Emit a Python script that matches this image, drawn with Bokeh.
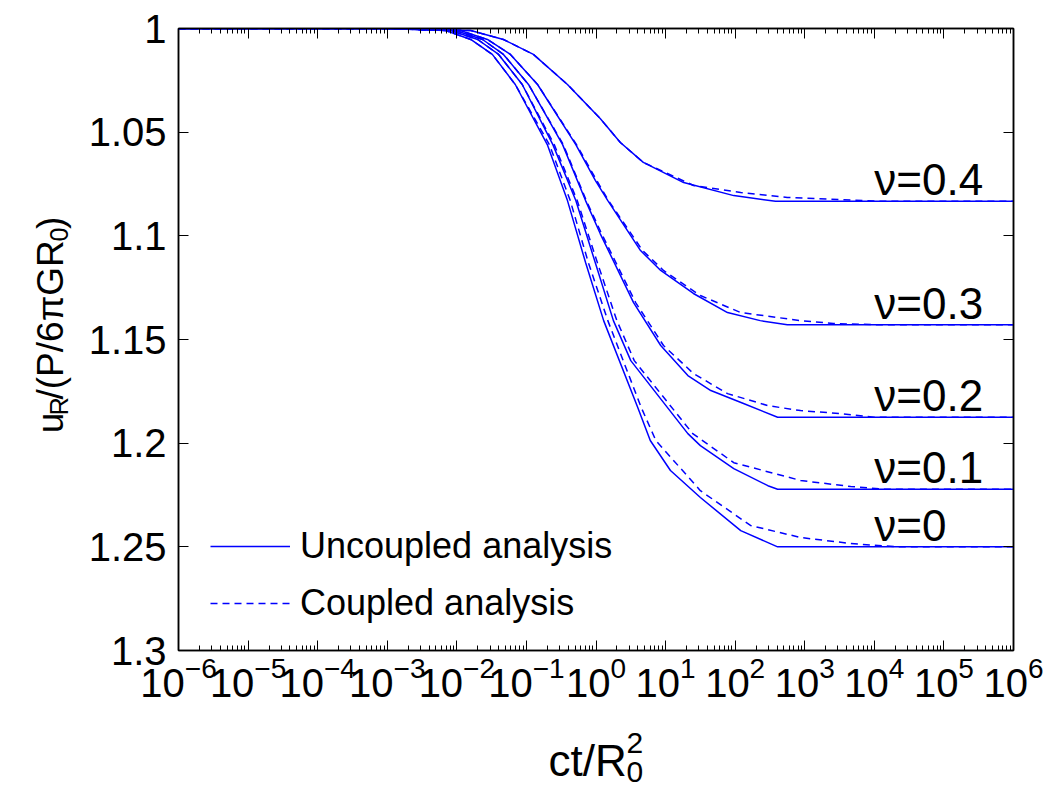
import numpy as np
from bokeh.plotting import figure
from bokeh.layouts import column, row
from bokeh.models import (Range1d, FixedTicker, LogAxis, LinearAxis, LabelSet,
                          Legend, LegendItem, CustomJSTickFormatter, ColumnDataSource)
from bokeh.embed import file_html
from bokeh.resources import INLINE
from bokeh.core.properties import value

FONT = "Liberation Sans"
BLUE = "#0000ff"

# ---------------- data ----------------
nu_labels = ["ν=0", "ν=0.1", "ν=0.2", "ν=0.3", "ν=0.4"]
final_u = [1.25, 1.2222, 1.1875, 1.1429, 1.0833]

# Uncoupled analysis (solid): log10(ct/R0^2) and u_R/(P/6piGR0)
unc_logt_0 = [-6, -3, -2.16, -1.80, -1.49, -1.16, -0.70, -0.41, -0.15, 0.11, 0.60, 0.78, 1.07, 1.50, 2.08, 2.61, 6]
unc_u_0 = [1, 1, 1.001, 1.0053, 1.0125, 1.027, 1.056, 1.083, 1.1129, 1.1409, 1.1828, 1.1987, 1.2132, 1.2262, 1.2422, 1.25, 1.25]
unc_logt_1 = [-6, -3, -2.09, -1.70, -1.40, -1.06, -0.62, -0.29, -0.02, 0.25, 0.50, 1.32, 1.50, 1.98, 2.47, 2.61, 6]
unc_u_1 = [1, 1, 1.001, 1.0053, 1.0125, 1.027, 1.056, 1.083, 1.1119, 1.1409, 1.1602, 1.1954, 1.2012, 1.2123, 1.2205, 1.2222, 1.2222]
unc_logt_2 = [-6, -3, -2.02, -1.63, -1.33, -0.97, -0.48, -0.15, 0.06, 0.54, 0.93, 1.32, 1.65, 2.12, 2.61, 6]
unc_u_2 = [1, 1, 1.001, 1.0053, 1.0125, 1.027, 1.056, 1.083, 1.0989, 1.1322, 1.1529, 1.1674, 1.1746, 1.1809, 1.1875, 1.1875]
unc_logt_3 = [-6, -3, -1.95, -1.56, -1.23, -0.84, -0.29, -0.01, 0.17, 0.64, 0.93, 1.40, 1.89, 2.36, 2.75, 6]
unc_u_3 = [1, 1, 1.001, 1.0053, 1.0125, 1.027, 1.056, 1.0733, 1.083, 1.1071, 1.1167, 1.1278, 1.137, 1.1409, 1.1429, 1.1429]
unc_logt_4 = [-6, -3, -1.80, -1.33, -0.90, -0.41, 0.06, 0.35, 0.68, 1.26, 1.98, 2.58, 6]
unc_u_4 = [1, 1, 1.001, 1.0053, 1.0125, 1.027, 1.0434, 1.055, 1.0646, 1.0743, 1.0806, 1.0833, 1.0833]

# Coupled analysis (dashed)
cpl_logt_0 = [-6, -3, -2.16, -1.80, -1.49, -1.16, -0.67, -0.37, -0.11, 0.17, 0.65, 0.86, 1.50, 2.22, 2.94, 3.66, 4.33, 6]
cpl_u_0 = [1, 1, 1.001, 1.0053, 1.0125, 1.027, 1.056, 1.083, 1.1129, 1.1409, 1.1828, 1.1987, 1.2229, 1.2397, 1.2455, 1.2484, 1.25, 1.25]
cpl_logt_1 = [-6, -3, -2.09, -1.70, -1.40, -1.06, -0.60, -0.27, 0.01, 0.30, 0.55, 1.39, 1.98, 2.94, 3.66, 4.13, 6]
cpl_u_1 = [1, 1, 1.001, 1.0053, 1.0125, 1.027, 1.056, 1.083, 1.1119, 1.1409, 1.1602, 1.1954, 1.2094, 1.218, 1.2209, 1.2222, 1.2222]
cpl_logt_2 = [-6, -3, -2.02, -1.63, -1.33, -0.97, -0.47, -0.14, 0.08, 0.57, 0.97, 1.40, 1.89, 2.47, 2.94, 3.51, 3.99, 6]
cpl_u_2 = [1, 1, 1.001, 1.0053, 1.0125, 1.027, 1.056, 1.083, 1.0989, 1.1322, 1.1529, 1.1664, 1.1761, 1.1819, 1.1843, 1.1857, 1.1875, 1.1875]
cpl_logt_3 = [-6, -3, -1.95, -1.56, -1.23, -0.84, -0.28, 0.01, 0.18, 0.67, 0.97, 1.50, 2.08, 2.94, 3.41, 4.09, 6]
cpl_u_3 = [1, 1, 1.001, 1.0053, 1.0125, 1.027, 1.056, 1.0733, 1.083, 1.1071, 1.1167, 1.1288, 1.137, 1.1409, 1.1423, 1.1429, 1.1429]
cpl_logt_4 = [-6, -3, -1.80, -1.33, -0.90, -0.41, 0.06, 0.35, 0.68, 1.40, 2.08, 2.75, 4.09, 6]
cpl_u_4 = [1, 1, 1.001, 1.0053, 1.0125, 1.027, 1.0434, 1.055, 1.0646, 1.0757, 1.0791, 1.0815, 1.0833, 1.0833]

x_exponents = list(range(-6, 7))
y_ticks = [1.0, 1.05, 1.1, 1.15, 1.2, 1.25, 1.3]
y_tick_labels = ["1", "1.05", "1.1", "1.15", "1.2", "1.25", "1.3"]

unc_series = [(unc_logt_0, unc_u_0), (unc_logt_1, unc_u_1), (unc_logt_2, unc_u_2),
              (unc_logt_3, unc_u_3), (unc_logt_4, unc_u_4)]
cpl_series = [(cpl_logt_0, cpl_u_0), (cpl_logt_1, cpl_u_1), (cpl_logt_2, cpl_u_2),
              (cpl_logt_3, cpl_u_3), (cpl_logt_4, cpl_u_4)]

# ---------------- main figure ----------------
YT_W = 78          # width of the strip holding the y title
MAIN_H = 710
p = figure(x_axis_type="log", x_range=Range1d(1e-6, 1e6), y_range=Range1d(1.3, 1.0),
           frame_width=835, frame_height=622,
           min_border_left=178 - YT_W, min_border_right=30, min_border_top=28, min_border_bottom=60,
           output_backend="svg", toolbar_location=None)
p.grid.visible = False
p.outline_line_color = "black"
p.outline_line_width = 1.5
p.background_fill_color = "white"
p.border_fill_color = "white"

major = [10.0 ** e for e in x_exponents]
minor = [k * 10.0 ** e for e in x_exponents[:-1] for k in range(2, 10)]
xticker = FixedTicker(ticks=major, minor_ticks=minor)
yticker = FixedTicker(ticks=y_ticks, minor_ticks=[])

xa = p.xaxis[0]
xa.ticker = xticker
ya = p.yaxis[0]
ya.ticker = yticker
ya.major_label_overrides = {t: l for t, l in zip(y_ticks, y_tick_labels)}

blank = CustomJSTickFormatter(code="return ''")
top_axis = LogAxis(ticker=xticker, formatter=blank)
right_axis = LinearAxis(ticker=yticker, formatter=blank)
p.add_layout(top_axis, "above")
p.add_layout(right_axis, "right")

for ax in (xa, ya, top_axis, right_axis):
    ax.axis_line_color = "black"
    ax.axis_line_width = 1.5
    ax.major_tick_line_color = "black"
    ax.minor_tick_line_color = "black"
    ax.major_tick_in = 10
    ax.major_tick_out = 0
    ax.minor_tick_in = 5
    ax.minor_tick_out = 0
    ax.major_label_text_font = FONT
    ax.major_label_text_color = "black"
    ax.major_label_text_font_size = "40px"
for ax in (ya, right_axis):
    ax.minor_tick_line_color = None
ya.major_label_standoff = 12
xa.major_label_standoff = 5
top_axis.major_label_standoff = 0
right_axis.major_label_standoff = 0

# ---------------- curves ----------------
solid_r = []
dash_r = []
for lt, u in unc_series:
    r = p.line([10.0 ** v for v in lt], u, line_color=BLUE, line_width=1.5)
    solid_r.append(r)
for lt, u in cpl_series:
    r = p.line([10.0 ** v for v in lt], u, line_color=BLUE, line_width=1.5, line_dash="7 5")
    dash_r.append(r)

# nu labels
lab_src = ColumnDataSource(dict(x=[1e4] * len(final_u), y=final_u, text=nu_labels))
p.add_layout(LabelSet(x="x", y="y", text="text", source=lab_src, y_offset=6,
                      text_font=value(FONT), text_font_size=value("44px"),
                      text_color="black", text_baseline="alphabetic", text_align="left"))

# legend
legend = Legend(items=[LegendItem(label="Uncoupled analysis", renderers=[solid_r[0]]),
                       LegendItem(label="Coupled analysis", renderers=[dash_r[0]])],
                location=(32, 26), glyph_width=80, glyph_height=30,
                label_text_font_size="36px", label_text_font=FONT, label_text_color="black",
                label_standoff=10, spacing=15, padding=0, margin=0,
                border_line_color=None, background_fill_alpha=0)
p.add_layout(legend)


# ---------------- title strips (sub/superscripts composed of text pieces) ----------------
def strip(w, h):
    f = figure(width=w, height=h, x_range=Range1d(0, w), y_range=Range1d(0, h),
               min_border=0, x_axis_location=None, y_axis_location=None,
               output_backend="svg", toolbar_location=None)
    f.grid.visible = False
    f.outline_line_color = None
    f.background_fill_color = "white"
    f.border_fill_color = "white"
    return f


def txt(f, s, x, y, size, angle=0.0):
    f.text(x=[x], y=[y], text=[s], angle=angle, text_font=value(FONT), text_font_size=value(size),
           text_color="black", text_align="left", text_baseline="alphabetic")


# y title  u_R/(P/6piGR_0), reads upward; y measured up from the strip bottom
yt = strip(YT_W, MAIN_H)
A = np.pi / 2
bx = 50
sx = bx + 8
txt(yt, "u", bx, MAIN_H - 462, "37px", A)
txt(yt, "R", sx, MAIN_H - 441.5, "25px", A)
txt(yt, "/(P/6πGR", bx, MAIN_H - 423.5, "37px", A)
txt(yt, "0", sx, MAIN_H - 243, "25px", A)
txt(yt, ")", bx, MAIN_H - 229, "37px", A)

# x title  ct/R_0^2
XT_H = 85
xt = strip(178 + 835 + 30, XT_H)
base = MAIN_H + XT_H - 760
txt(xt, "ct/R", 548, base, "44px")
txt(xt, "2", 626, base + 18, "30px")
txt(xt, "0", 626, base - 11, "30px")

layout = column(row(yt, p, spacing=0), xt, spacing=0)
open("out.html", "w").write(file_html(layout, INLINE))
